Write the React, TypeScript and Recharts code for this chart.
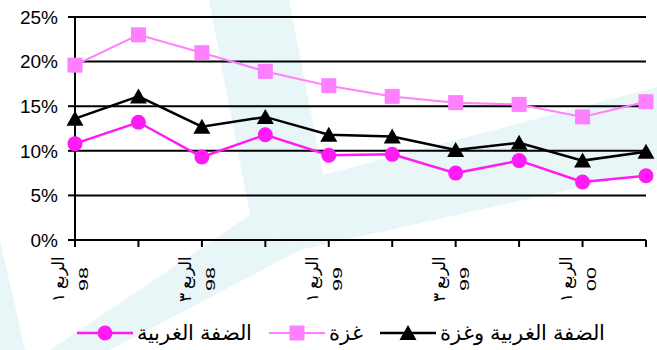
import { LineChart, Line, XAxis, YAxis, CartesianGrid, Legend } from 'recharts'

// quarterly rates, 1998 Q1 .. 2000 Q2
const quarters = ['الربع ١', 'الربع ٢', 'الربع ٣', 'الربع ٤', 'الربع ١', 'الربع ٢', 'الربع ٣', 'الربع ٤', 'الربع ١', 'الربع ٢']
const years = ['98', '98', '98', '98', '99', '99', '99', '99', '00', '00']
const westBank = [10.8, 13.2, 9.3, 11.8, 9.5, 9.6, 7.5, 8.9, 6.5, 7.2]
const gaza = [19.6, 23.0, 21.0, 18.9, 17.3, 16.1, 15.4, 15.2, 13.8, 15.5]
const westBankAndGaza = [13.6, 16.1, 12.7, 13.8, 11.8, 11.6, 10.1, 10.9, 8.9, 9.9]
const yTicks = [0, 5, 10, 15, 20, 25]

const series = [
  { key: 'westBank', name: 'الضفة الغربية', color: '#ff1cf4', shape: 'circle', width: 2.5 },
  { key: 'gaza', name: 'غزة', color: '#ff80ff', shape: 'square', width: 2 },
  { key: 'both', name: 'الضفة الغربية وغزة', color: '#000000', shape: 'triangle', width: 2.5 },
]

const data = quarters.map((q, i) => ({
  label: `${q} ${years[i]}`,
  quarter: q,
  year: years[i],
  westBank: westBank[i],
  gaza: gaza[i],
  both: westBankAndGaza[i],
}))

const font = '"Liberation Sans", Arial, sans-serif'

function Marker({ shape, cx, cy, color }: { shape: string; cx: number; cy: number; color: string }) {
  if (shape === 'circle') return <circle cx={cx} cy={cy} r={7.5} fill={color} />
  if (shape === 'square') return <rect x={cx - 7.5} y={cy - 7.5} width={15} height={15} fill={color} />
  return <polygon points={`${cx},${cy - 8} ${cx + 8.5},${cy + 7} ${cx - 8.5},${cy + 7}`} fill={color} />
}

function QuarterTick(props: any) {
  const { x, y, index } = props
  if (index % 2 !== 0) return null
  const d = data[index]
  return (
    <g>
      <text
        transform={`translate(${x - 11},${y + 32}) rotate(-90)`}
        textAnchor="middle"
        fontSize={17}
        fontFamily={font}
        fill="#000"
      >
        {d.quarter}
      </text>
      <text
        transform={`translate(${x + 13},${y + 32}) rotate(-90) scale(1.65,1)`}
        textAnchor="middle"
        fontSize={13}
        fontFamily={font}
        fill="#000"
      >
        {d.year}
      </text>
    </g>
  )
}

function ChartLegend() {
  return (
    <div
      style={{
        display: 'flex',
        justifyContent: 'flex-start',
        alignItems: 'center',
        direction: 'ltr',
        fontFamily: font,
        fontSize: 21,
        paddingLeft: 77,
        color: '#000',
      }}
    >
      {series.map((s) => (
        <div key={s.key} style={{ display: 'flex', alignItems: 'center', marginRight: 17 }}>
          <svg width={56} height={18}>
            <line x1={0} y1={9} x2={56} y2={9} stroke={s.color} strokeWidth={s.width} />
            <Marker shape={s.shape} cx={28} cy={9} color={s.color} />
          </svg>
          <span style={{ marginLeft: 4, whiteSpace: 'nowrap' }}>{s.name}</span>
        </div>
      ))}
    </div>
  )
}

function Watermark() {
  const c = '#e8f6f8'
  return (
    <svg width={657} height={350} style={{ position: 'absolute', left: 0, top: 0 }}>
      <polygon points="209,0 289,0 323,175 250,215" fill={c} />
      <polygon points="323,175 657,87 657,170 300,250 250,215" fill={c} />
      <polygon points="250,215 300,250 110,350 50,350" fill={c} />
      <polygon points="0,240 25,350 0,350" fill={c} />
    </svg>
  )
}

export default function App() {
  return (
    <div style={{ position: 'absolute', left: 0, top: 0, width: 657, height: 350, background: '#fff' }}>
      <Watermark />
      <div style={{ position: 'absolute', left: 0, top: 0 }}>
        <LineChart width={657} height={350} data={data} margin={{ top: 17, right: 11, bottom: 0, left: 0 }}>
          <CartesianGrid vertical={false} stroke="#000" strokeWidth={2} yAxisId="left" />
          <XAxis
            dataKey="label"
            interval={0}
            height={110}
            tickSize={7}
            tickMargin={0}
            tickLine={{ stroke: '#000', strokeWidth: 2 }}
            axisLine={{ stroke: '#000', strokeWidth: 2 }}
            tick={<QuarterTick />}
          />
          <YAxis
            yAxisId="left"
            domain={[0, 25]}
            ticks={yTicks}
            width={75}
            tickSize={7}
            tickMargin={10}
            tickFormatter={(v) => `${v}%`}
            tickLine={{ stroke: '#000', strokeWidth: 2 }}
            axisLine={{ stroke: '#000', strokeWidth: 2 }}
            tick={{ fill: '#000', fontSize: 19, fontFamily: font }}
          />
          <YAxis
            yAxisId="right"
            orientation="right"
            domain={[0, 25]}
            width={0}
            tick={false}
            tickLine={false}
            axisLine={{ stroke: '#000', strokeWidth: 2 }}
          />
          <Legend
            layout="horizontal"
            align="center"
            verticalAlign="middle"
            wrapperStyle={{ top: 321, left: 0, width: 657 }}
            content={<ChartLegend />}
          />
          {series.map((s) => (
            <Line
              key={s.key}
              yAxisId="left"
              dataKey={s.key}
              name={s.name}
              stroke={s.color}
              strokeWidth={s.width}
              isAnimationActive={false}
              dot={(p: any) => <Marker key={p.index} shape={s.shape} cx={p.cx} cy={p.cy} color={s.color} />}
            />
          ))}
        </LineChart>
      </div>
    </div>
  )
}
